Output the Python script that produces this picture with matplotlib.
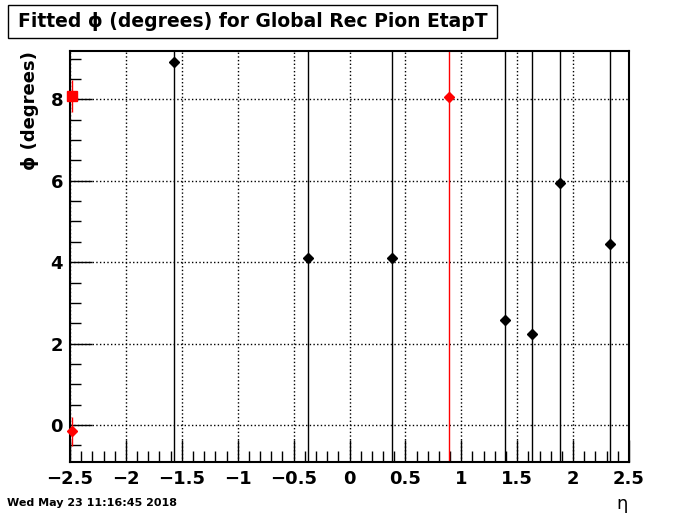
import matplotlib.pyplot as plt
from matplotlib.ticker import MultipleLocator

# fitted phi per eta bin
eta = [-1.57, -0.37, 0.38, 1.39, 1.63, 1.88, 2.33]
phi = [8.92, 4.10, 4.10, 2.58, 2.24, 5.94, 4.45]
phi_err = [40, 40, 40, 40, 40, 40, 40]

# red bins
eta_red = [-2.48, 0.89]
phi_red = [-0.16, 8.05]
phi_red_err = [0.35, 40]

# red square marker
eta_sq = [-2.48]
phi_sq = [8.08]
phi_sq_err = [0.4]

plt.rcParams['font.family'] = ['DejaVu Sans']
fig = plt.figure(figsize=(7, 5.14), dpi=100)
ax = fig.add_axes([0.1, 0.1012, 0.7986, 0.7996])

ax.errorbar(eta, phi, yerr=phi_err, fmt='D', color='black', ms=5.5, elinewidth=1, capsize=0)
ax.errorbar(eta_red[1:], phi_red[1:], yerr=phi_red_err[1:], fmt='D', color='red', ms=5.5,
            elinewidth=1, capsize=0)
# points on the left edge are drawn over the frame
edge = ax.errorbar(eta_red[:1], phi_red[:1], yerr=phi_red_err[:1], fmt='D', color='red', ms=5.5,
                   elinewidth=1, capsize=0, zorder=5)
sq = ax.errorbar(eta_sq, phi_sq, yerr=phi_sq_err, fmt='s', color='red', ms=6.5, elinewidth=1,
                 capsize=0, zorder=5)
for c in (edge, sq):
    for art in c.get_children():
        art.set_clip_on(False)

ax.set_xlim(-2.5, 2.5)
ax.set_ylim(-0.91, 9.19)
ax.xaxis.set_major_locator(MultipleLocator(0.5))
ax.xaxis.set_minor_locator(MultipleLocator(0.1))
ax.yaxis.set_major_locator(MultipleLocator(2))
ax.yaxis.set_minor_locator(MultipleLocator(0.5))
ax.tick_params(which='both', direction='in', top=False, right=False, width=1)
ax.tick_params(which='major', length=16, labelsize=13)
ax.tick_params(axis='x', which='major', pad=6)
ax.tick_params(axis='y', which='major', pad=5)
ax.tick_params(which='minor', length=8)
ax.grid(True, which='major', linestyle=':', color='black', linewidth=1)
for s in ax.spines.values():
    s.set_linewidth(1.5)

ax.set_xticks([-2.5, -2, -1.5, -1, -0.5, 0, 0.5, 1, 1.5, 2, 2.5])
ax.set_xticklabels(['\u22122.5', '\u22122', '\u22121.5', '\u22121', '\u22120.5', '0', '0.5', '1', '1.5', '2', '2.5'],
                   fontweight='bold')
for lab in ax.get_yticklabels():
    lab.set_fontweight('bold')

# y axis title
fig.text(0.043, 0.9, '\u03d5 (degrees)', rotation=90, ha='center', va='top', fontsize=13, fontweight='bold')
# x axis title
fig.text(0.889, 0.002, '\u03b7', ha='center', va='bottom', fontsize=13)

# title box
fig.text(0.025, 0.959, 'Fitted \u03d5 (degrees) for Global Rec Pion EtapT', ha='left', va='center',
         fontsize=13.5, fontweight='bold')
box = plt.Rectangle((8 / 700, 1 - 38 / 514), 489 / 700, 33 / 514, transform=fig.transFigure,
                    fill=False, edgecolor='black', linewidth=1)
fig.patches.append(box)

fig.text(0.01, 0.012, 'Wed May 23 11:16:45 2018', ha='left', va='bottom', fontsize=8, fontweight='bold')

fig.savefig('out.png', dpi=100)
